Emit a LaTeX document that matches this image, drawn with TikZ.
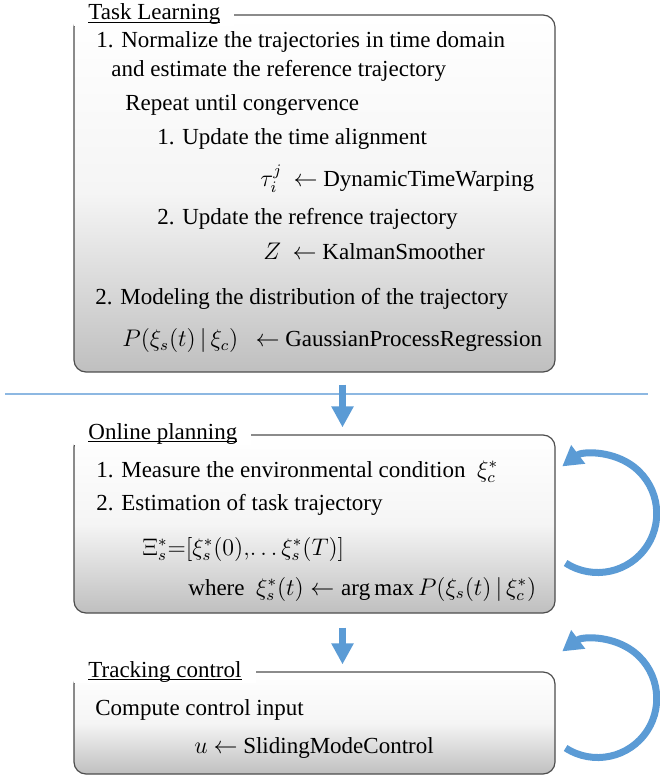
\documentclass[tikz,border=0pt]{standalone}
\usepackage{fontspec}
\setmainfont{Liberation Serif}
\usetikzlibrary{arrows.meta,fit}
\definecolor{flowblue}{HTML}{5B9BD5}
\definecolor{rulecol}{HTML}{8DB8E2}
\definecolor{edgegray}{HTML}{4D4D4D}
\newcommand{\stagetitle}[1]{\underline{\raisebox{0pt}[\height][0pt]{#1}}}

\begin{document}
\begin{tikzpicture}[x=0.5pt, y=-0.5pt, font=\fontsize{11.5}{14}\selectfont,
  panel/.style={draw=edgegray, line width=0.6pt, rounded corners=6pt, inner sep=0pt,
    top color=white, bottom color=black!25, middle color=black!4},
  title/.style={anchor=base west, fill=white, inner xsep=7pt, inner ysep=1pt},
  txt/.style={anchor=base west, inner sep=0pt},
  flow/.style={flowblue, line width=3.5pt, -{Triangle[width=10.5pt,length=10.5pt]}},
  selfloop/.style={flowblue, line width=3.5pt, -{Triangle[width=11pt,length=10pt]}}]
\useasboundingbox (0,0) rectangle (659,779);

% the three stages
\node[panel, fit={(74,15) (555,372)}] (learn) {};
\node[panel, fit={(74,435) (555,613)}] (plan) {};
\node[panel, fit={(74,672) (555,774)}] (track) {};

\node[title] (learnt) at (74,20) {\stagetitle{Task Learning}};
\node[title] (plant) at (74,439) {\stagetitle{Online planning}};
\node[title] (trackt) at (74,677) {\stagetitle{Tracking control}};

% offline part
\node[txt] (l1) at (96,48) {1. Normalize the trajectories in time domain};
\node[txt] (l2) at (111,77) {and estimate the reference trajectory};
\node[txt] (l3) at (125,111) {Repeat until congervence};
\node[txt] (l4) at (157,145) {1. Update the time alignment};
\node[txt] (l5) at (260,187) {$\tau_i^j$\ \ $\leftarrow$ DynamicTimeWarping};
\node[txt] (l6) at (157,225) {2. Update the refrence trajectory};
\node[txt] (l7) at (263,260) {$Z$\ \ $\leftarrow$ KalmanSmoother};
\node[txt] (l8) at (95,305) {2. Modeling the distribution of the trajectory};
\node[txt] (l9) at (122,347) {$P(\xi_s(t)\,|\,\xi_c)$\ \ \ $\leftarrow$ GaussianProcessRegression};

\draw[rulecol, line width=0.8pt] (5,394) -- (648,394);

% online part
\node[txt] (p1) at (96,477) {1. Measure the environmental condition\ \ $\xi_c^*$};
\node[txt] (p2) at (96,510) {2. Estimation of task trajectory};
\node[txt] (p3) at (142,555) {$\Xi_s^*{=}\bigl[\xi_s^*(0),\!\ldots\xi_s^*(T)\bigr]$};
\node[txt] (p4) at (188,595) {where\ \ $\xi_s^*(t)\leftarrow\arg\max P(\xi_s(t)\,|\,\xi_c^*)$};

\node[txt] (c1) at (95,715) {Compute control input};
\node[txt] (c2) at (194,753) {$u$\ $\leftarrow$ SlidingModeControl};

% arrows
\foreach \a/\b/\d in {learn/plan/6pt, plan/track/7pt}
  \draw[flow] ([xshift=14pt,yshift=-\d]\a.south) -- ([xshift=14pt,yshift=3.5pt]\b.north);
\foreach \b/\d in {plan/-19.5pt, track/-12.5pt}
  \draw[selfloop] ([xshift=5pt,yshift=\d]\b.east) arc[start angle=237, end angle=487, radius=29.5pt];
\end{tikzpicture}
\end{document}
